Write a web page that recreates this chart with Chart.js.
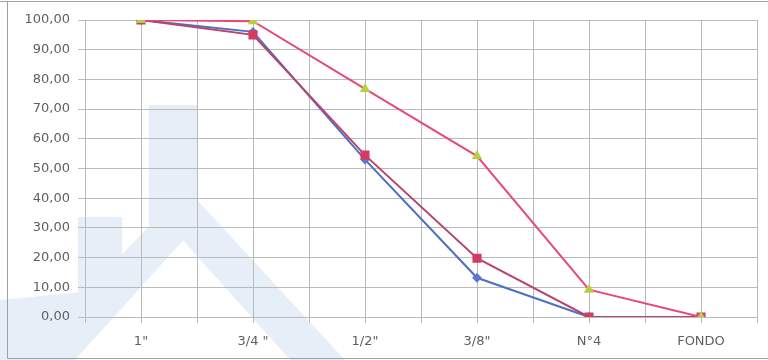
<!DOCTYPE html>
<html>
<head>
<meta charset="utf-8">
<script src="https://cdn.jsdelivr.net/npm/chart.js@4.4.1/dist/chart.umd.min.js"></script>
<style>
  html, body { margin: 0; padding: 0; background: #ffffff; }
  #wrap { position: relative; width: 768px; height: 360px; }
</style>
</head>
<body>
<div id="wrap"><canvas id="c" width="768" height="360"></canvas></div>
<script>
// Sieve sizes (x axis categories)
const sieves = ['1"', '3/4 "', '1/2"', '3/8"', 'N°4', 'FONDO'];
// Percent passing for each curve
const passingA = [100, 96.0, 53.0, 13.2, 0, 0];
const passingB = [100, 95.0, 54.5, 19.8, 0, 0];
const upperLimit = [100, 99.6, 76.8, 54.2, 9.2, 0];
// Y axis range and step
const yMin = 0, yMax = 100, yStep = 10;

const toPoints = arr => arr.map((v, i) => ({ x: i, y: v }));

// faint logo watermark behind the plot + outer frame
const backdrop = {
  id: 'backdrop',
  beforeDraw(chart) {
    const ctx = chart.ctx;
    ctx.save();
    ctx.fillStyle = '#ffffff';
    ctx.fillRect(0, 0, chart.width, chart.height);
    ctx.fillStyle = 'rgba(214,229,242,0.6)';
    ctx.beginPath();
    // vertical stem
    ctx.moveTo(149, 105); ctx.lineTo(197, 105); ctx.lineTo(197, 225); ctx.lineTo(149, 225); ctx.closePath();
    // right diagonal band
    ctx.moveTo(172, 228); ctx.lineTo(197, 200); ctx.lineTo(345, 360); ctx.lineTo(290, 360); ctx.closePath();
    // left diagonal band
    ctx.moveTo(160, 215); ctx.lineTo(197, 225); ctx.lineTo(75, 360); ctx.lineTo(20, 360); ctx.closePath();
    // base block
    ctx.moveTo(78, 217); ctx.lineTo(122, 217); ctx.lineTo(122, 300); ctx.lineTo(78, 300); ctx.closePath();
    ctx.moveTo(0, 300); ctx.lineTo(100, 290); ctx.lineTo(60, 360); ctx.lineTo(0, 360); ctx.closePath();
    ctx.fill('nonzero');
    ctx.restore();
  },
  afterDraw(chart) {
    const ctx = chart.ctx;
    ctx.save();
    ctx.strokeStyle = '#a0a0a0';
    ctx.lineWidth = 1;
    ctx.beginPath();
    ctx.moveTo(7.5, 358.5); ctx.lineTo(7.5, 1.5);
    ctx.moveTo(0, 1.5); ctx.lineTo(768, 1.5);
    ctx.moveTo(7.5, 358.5); ctx.lineTo(768, 358.5);
    ctx.stroke();
    ctx.restore();
  }
};

const gridColor = '#bababa';
const tickFont = { family: 'DejaVu Sans', size: 13 };

new Chart(document.getElementById('c'), {
  type: 'line',
  data: {
    datasets: [
      {
        label: 'Límite superior',
        data: toPoints(upperLimit),
        borderColor: '#e84a78',
        borderWidth: 2,
        pointStyle: 'triangle',
        pointRadius: 4,
        pointBackgroundColor: '#b8cf3e',
        pointBorderColor: '#b8cf3e',
        order: 0
      },
      {
        label: 'Muestra 2',
        data: toPoints(passingB),
        borderColor: '#b8446a',
        borderWidth: 2,
        pointStyle: 'rect',
        pointRadius: 5,
        pointBackgroundColor: '#d23c60',
        pointBorderColor: '#d23c60',
        order: 1
      },
      {
        label: 'Muestra 1',
        data: toPoints(passingA),
        borderColor: '#4f6ec4',
        borderWidth: 2,
        pointStyle: 'rectRot',
        pointRadius: 3.5,
        pointBackgroundColor: '#5a78cc',
        pointBorderColor: '#5a78cc',
        order: 2
      }
    ]
  },
  options: {
    responsive: false,
    animation: false,
    devicePixelRatio: 1,
    layout: { padding: { left: 0, right: 9, top: 20, bottom: 0 } },
    elements: { line: { tension: 0 } },
    plugins: { legend: { display: false }, tooltip: { enabled: false } },
    scales: {
      x: {
        type: 'linear',
        min: -0.5,
        max: sieves.length - 0.5,
        afterBuildTicks(scale) {
          const t = [];
          for (let k = 0; k <= sieves.length * 2; k++) t.push({ value: -0.5 + k * 0.5 });
          scale.ticks = t;
        },
        afterFit(scale) { scale.height = 43; },
        grid: { color: gridColor, tickLength: 6, lineWidth: 1 },
        border: { color: gridColor },
        ticks: {
          autoSkip: false,
          maxRotation: 0,
          padding: 11,
          color: '#5f5f5f',
          font: tickFont,
          callback: v => Number.isInteger(v) ? sieves[v] : ''
        }
      },
      y: {
        min: yMin,
        max: yMax,
        afterFit(scale) { scale.width = 85; },
        grid: { color: gridColor, tickLength: 7, lineWidth: 1 },
        border: { color: gridColor },
        ticks: {
          stepSize: yStep,
          padding: 8,
          color: '#5f5f5f',
          font: tickFont,
          callback: v => v.toFixed(2).replace('.', ',')
        }
      }
    }
  },
  plugins: [backdrop]
});
</script>
</body>
</html>
